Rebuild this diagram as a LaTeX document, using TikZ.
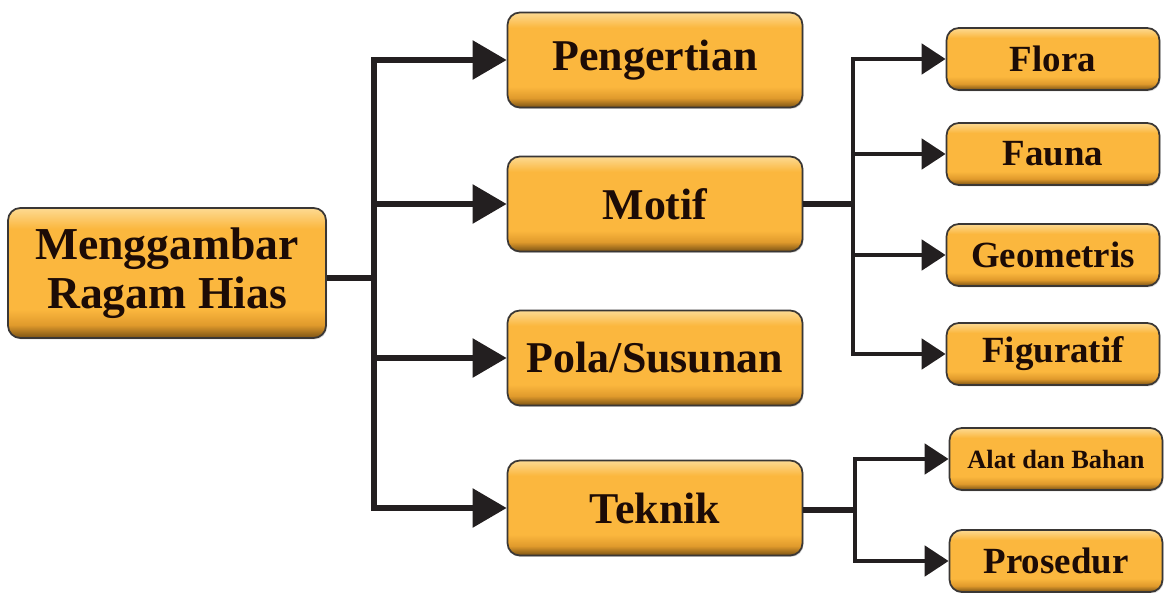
\documentclass[tikz,border=0pt]{standalone}
\usepackage{fontspec}
\setmainfont{Liberation Serif}
\usepackage{tikz}
\usetikzlibrary{arrows.meta,positioning,shadows,calc}
\definecolor{boxtop}{HTML}{FDDA92}
\definecolor{boxmid}{HTML}{FBB73E}
\definecolor{boxdark}{HTML}{E09A2C}
\definecolor{boxbot}{HTML}{7A5214}
\definecolor{boxline}{HTML}{3A3735}
\definecolor{txt}{HTML}{1C0B06}
\definecolor{garishitam}{HTML}{231F20}
\pgfdeclareverticalshading{kotakshade}{100bp}{color(0bp)=(boxbot); color(25bp)=(boxbot); color(30bp)=(boxdark); color(36bp)=(boxmid); color(67bp)=(boxmid); color(75bp)=(boxtop); color(100bp)=(boxtop)}
\tikzstyle{kotak}=[draw=boxline, line width=1pt, rounded corners=7pt, shading=kotakshade, text=txt, font=\bfseries, align=center, inner sep=0pt, drop shadow={opacity=0.3, shadow xshift=0.6pt, shadow yshift=-0.8pt}]
\tikzstyle{besar}=[kotak, minimum width=5.9cm, minimum height=1.9cm, font=\fontsize{25}{28}\selectfont\bfseries]
\tikzstyle{kecil}=[kotak, minimum width=4.26cm, minimum height=1.24cm, font=\fontsize{21}{24}\selectfont\bfseries]
\tikzstyle{garis}=[line width=3.2pt, draw=garishitam]
\tikzstyle{panah}=[garis, -{Triangle[length=0.68cm, width=0.76cm]}]
\tikzstyle{panahkecil}=[garis, line width=2.8pt, -{Triangle[length=0.48cm, width=0.6cm]}]

\begin{document}
\begin{tikzpicture}[x=0.02cm, y=-0.02cm]
\useasboundingbox (0,0) rectangle (1169,592);

\node[kotak, minimum width=6.36cm, minimum height=2.6cm, font=\fontsize{26}{28}\selectfont\bfseries] (root) at (167,273) {Menggambar\\Ragam Hias};

% level 1
\node[besar] (pengertian) at (655,60) {Pengertian};
\node[besar] (motif) at (655,204) {Motif};
\node[besar] (pola) at (655,358) {Pola/Susunan};
\node[besar] (teknik) at (655,508) {Teknik};

% level 2
\node[kecil] (flora) at (1053,59) {Flora};
\node[kecil] (fauna) at (1053,154) {Fauna};
\node[kecil] (geometris) at (1053,255) {Geometris};
\node[kecil] (figuratif) at (1053,354) {Figuratif};
\node[kecil, font=\fontsize{15}{18}\selectfont\bfseries] (alat) at (1056,459) {Alat dan Bahan};
\node[kecil] (prosedur) at (1056,561) {Prosedur};

% spine
\coordinate (s1) at (374,278);
\coordinate (s2) at (853,204);
\coordinate (s3) at (855,510);

\draw[garis] (root.east |- s1) -- (s1);
\draw[garis, line cap=rect] (s1 |- pengertian.west) -- (s1 |- teknik.west);
\foreach \t in {pengertian,motif,pola,teknik}
  \draw[panah] (s1 |- \t.west) -- (\t.west);

\draw[garis] (motif.east) -- (s2);
\draw[garis, line width=2.8pt, line cap=rect] (s2 |- flora.west) -- (s2 |- figuratif.west);
\foreach \t in {flora,fauna,geometris,figuratif}
  \draw[panahkecil] (s2 |- \t.west) -- (\t.west);

\draw[garis] (teknik.east |- s3) -- (s3);
\draw[garis, line width=2.8pt, line cap=rect] (s3 |- alat.west) -- (s3 |- prosedur.west);
\foreach \t in {alat,prosedur}
  \draw[panahkecil] (s3 |- \t.west) -- (\t.west);

\end{tikzpicture}
\end{document}
